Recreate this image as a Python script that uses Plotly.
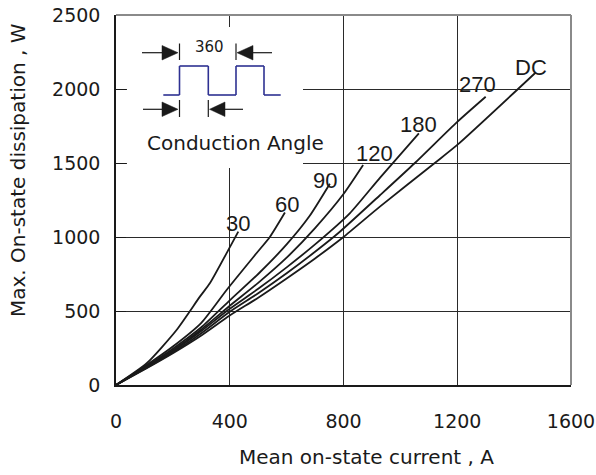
import plotly.graph_objects as go

# ---- data ----
x30 = [0, 108, 213, 295, 330, 400, 430]
y30 = [0, 147, 372, 597, 687, 930, 1036]

x60 = [0, 100, 200, 300, 389, 494, 541, 594]
y60 = [0, 125, 260, 420, 642, 890, 1000, 1165]

x90 = [0, 100, 200, 300, 400, 500, 600, 680, 752]
y90 = [0, 118, 245, 390, 572, 750, 950, 1140, 1360]

x120 = [0, 100, 200, 300, 400, 500, 600, 700, 800, 869]
y120 = [0, 115, 235, 375, 535, 690, 860, 1060, 1290, 1486]

x180 = [0, 100, 200, 300, 400, 500, 600, 700, 822, 928, 1065]
y180 = [0, 112, 228, 365, 515, 650, 795, 950, 1160, 1400, 1700]

x270 = [0, 100, 200, 300, 400, 500, 600, 700, 781, 928, 1051, 1200, 1300]
y270 = [0, 108, 220, 350, 495, 620, 755, 900, 1025, 1282, 1500, 1778, 1948]

xdc = [0, 100, 200, 300, 400, 500, 600, 700, 800, 928, 1121, 1200, 1475]
ydc = [0, 105, 215, 335, 470, 590, 720, 855, 1000, 1205, 1500, 1622, 2110]

series = [("30", x30, y30), ("60", x60, y60), ("90", x90, y90),
          ("120", x120, y120), ("180", x180, y180), ("270", x270, y270),
          ("DC", xdc, ydc)]

label_names = ["30", "60", "90", "120", "180", "270", "DC"]
label_x = [428, 600, 736, 908, 1062, 1270, 1460]
label_y = [1088, 1222, 1385, 1561, 1757, 2030, 2145]

x_ticks = [0, 400, 800, 1200, 1600]
y_ticks = [0, 500, 1000, 1500, 2000, 2500]

# ---- figure ----
W, H = 596, 475
L, R, T, B = 116, 25, 15, 90
PW, PH = W - L - R, H - T - B

def fx(px):
    return (px - L) / PW

def fy(py):
    return (H - B - py) / PH

fig = go.Figure()
for name, xs, ys in series:
    fig.add_trace(go.Scatter(x=xs, y=ys, mode="lines", name=name,
                             line=dict(color="#1a1a1a", width=1.8, shape="spline", smoothing=0.6),
                             showlegend=False, hoverinfo="skip"))

font_main = "DejaVu Sans, Liberation Sans, Arial, sans-serif"
ann = []
for t, lx, ly in zip(label_names, label_x, label_y):
    ann.append(dict(x=lx, y=ly, xref="x", yref="y", text=t, showarrow=False,
                    font=dict(family="Liberation Sans Narrow, Liberation Sans, Arial", size=22, color="#1a1a1a"),
                    xanchor="center", yanchor="middle"))

# axis titles
ann.append(dict(x=fx(366), y=fy(457), xref="paper", yref="paper", text="Mean on-state current , A",
                showarrow=False, font=dict(family=font_main, size=20, color="#1a1a1a"),
                xanchor="center", yanchor="middle"))
ann.append(dict(x=fx(18), y=fy(170), xref="paper", yref="paper", text="Max. On-state dissipation , W",
                showarrow=False, textangle=-90, font=dict(family=font_main, size=20, color="#1a1a1a"),
                xanchor="center", yanchor="middle"))

# inset texts
ann.append(dict(x=fx(209), y=fy(46.5), xref="paper", yref="paper", text="360", showarrow=False,
                font=dict(family=font_main, size=15, color="#1a1a1a"), xanchor="center", yanchor="middle"))
ann.append(dict(x=fx(235), y=fy(143), xref="paper", yref="paper", text="Conduction Angle", showarrow=False,
                font=dict(family=font_main, size=20, color="#1a1a1a"), xanchor="center", yanchor="middle"))

shapes = []
# white inset box
shapes.append(dict(type="rect", xref="paper", yref="paper", x0=fx(127), x1=fx(303), y0=fy(168), y1=fy(27),
                   fillcolor="white", line=dict(width=0), layer="above"))

def seg(x0, y0, x1, y1, color="#1a1a1a", w=1.2):
    shapes.append(dict(type="line", xref="paper", yref="paper", x0=fx(x0), y0=fy(y0), x1=fx(x1), y1=fy(y1),
                       line=dict(color=color, width=w), layer="above"))

def tri(pts, color="#1a1a1a"):
    path = "M " + " L ".join(f"{fx(a)},{fy(b)}" for a, b in pts) + " Z"
    shapes.append(dict(type="path", xref="paper", yref="paper", path=path, fillcolor=color,
                       line=dict(color=color, width=0.5), layer="above"))

# top arrows (360)
seg(142, 52.7, 166, 52.7)
tri([(162, 45.5), (178, 52.7), (162, 60)])
seg(179.5, 43.5, 179.5, 60)
seg(236, 43.5, 236, 60)
tri([(253, 45.5), (237, 52.7), (253, 60)])
seg(250, 52.7, 272, 52.7)
# waveform
wx = [163.3, 179.5, 179.5, 208.3, 208.3, 236, 236, 264, 264, 280.7]
wy = [95, 95, 66, 66, 95, 95, 66, 66, 95, 95]
for i in range(len(wx) - 1):
    seg(wx[i], wy[i], wx[i + 1], wy[i + 1], color="#2e3192", w=1.6)
# bottom arrows (conduction angle)
seg(143, 109.3, 166, 109.3)
tri([(162, 102), (178, 109.3), (162, 116.5)])
seg(179.5, 100, 179.5, 117)
seg(208.3, 100, 208.3, 117)
tri([(225, 102), (209.5, 109.3), (225, 116.5)])
seg(222, 109.3, 243, 109.3)

# top and right frame (gray)
shapes.append(dict(type="line", xref="paper", yref="paper", x0=0, x1=1, y0=1, y1=1,
                   line=dict(color="#8a8a8a", width=2), layer="above"))
shapes.append(dict(type="line", xref="paper", yref="paper", x0=1, x1=1, y0=0, y1=1,
                   line=dict(color="#8a8a8a", width=2), layer="above"))

fig.update_layout(
    width=W, height=H, margin=dict(l=L, r=R, t=T, b=B, autoexpand=False),
    paper_bgcolor="white", plot_bgcolor="white",
    annotations=ann, shapes=shapes,
    xaxis=dict(range=[0, 1600], tickvals=x_ticks, ticktext=[str(v) for v in x_ticks],
               showgrid=True, gridcolor="#2a2a2a", gridwidth=1, zeroline=False,
               showline=True, linecolor="#1a1a1a", linewidth=1.5, automargin=False,
               ticks="", ticklabelstandoff=18,
               tickfont=dict(family=font_main, size=19, color="#1a1a1a")),
    yaxis=dict(range=[0, 2500], tickvals=y_ticks, ticktext=[str(v) for v in y_ticks],
               showgrid=True, gridcolor="#2a2a2a", gridwidth=1, zeroline=False,
               showline=True, linecolor="#1a1a1a", linewidth=1.5, automargin=False,
               ticks="inside", ticklen=10, tickcolor="#1a1a1a", ticklabelstandoff=10,
               tickfont=dict(family=font_main, size=19, color="#1a1a1a")),
)

fig.write_html("out.html")
